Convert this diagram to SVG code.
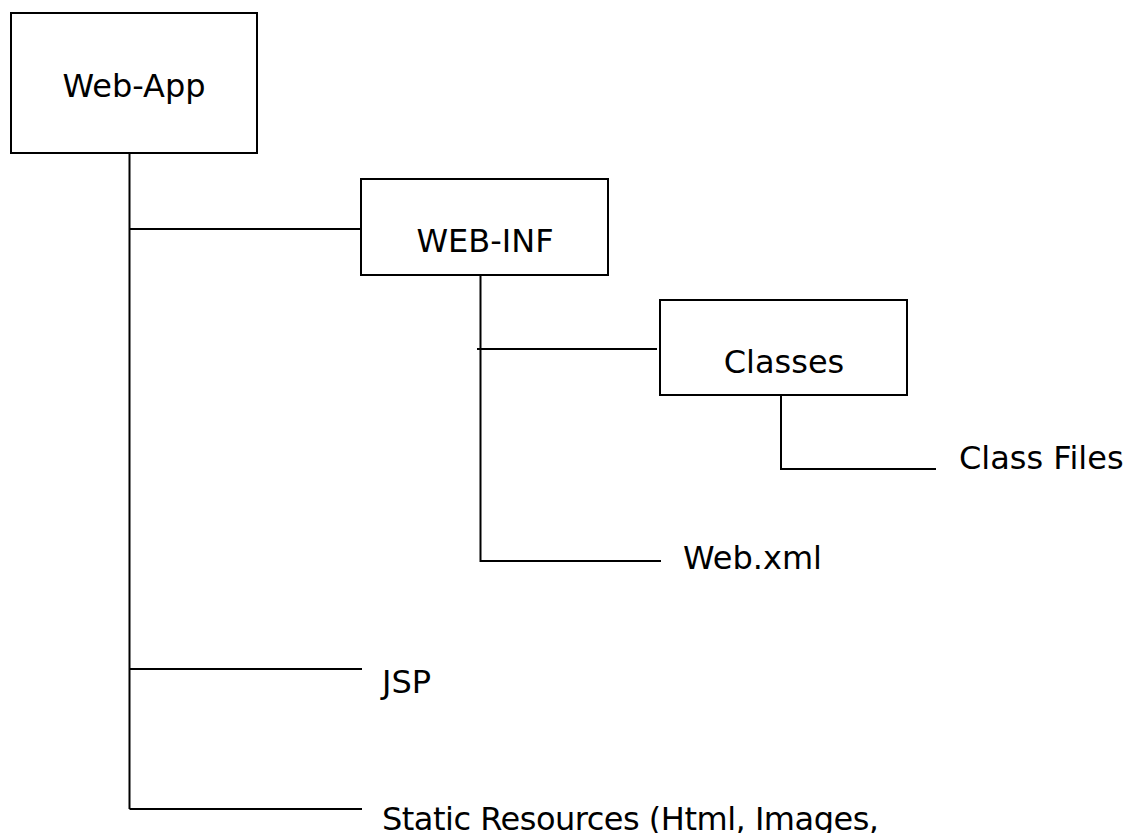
<svg xmlns="http://www.w3.org/2000/svg" width="1128" height="833" viewBox="0 0 1128 833">
<style>
.box{fill:#fff;stroke:#000;stroke-width:2}
.ln{fill:none;stroke:#000;stroke-width:2}
.t{font-family:"DejaVu Sans",Verdana,sans-serif;font-size:32px;fill:#000}
.c{text-anchor:middle}
</style>
<rect width="1128" height="833" fill="#fff"/>
<g id="connectors">
<path class="ln" d="M129.5 153 V809 M129.5 229 H362"/>
<path class="ln" d="M129.5 669 H362 M129.5 809 H362"/>
<path class="ln" d="M480.5 275 V561 H661 M477 349 H657"/>
<path class="ln" d="M781 395 V469 H936"/>
</g>
<g id="web-app">
<rect class="box" x="11" y="13" width="246" height="140"/>
<text class="t c" x="134" y="97">Web-App</text>
</g>
<g id="web-inf">
<rect class="box" x="361" y="179" width="247" height="96"/>
<text class="t c" x="485" y="252">WEB-INF</text>
</g>
<g id="classes">
<rect class="box" x="660" y="300" width="247" height="95"/>
<text class="t c" x="784" y="373">Classes</text>
</g>
<g id="class-files"><text class="t" x="959" y="469">Class Files</text></g>
<g id="web-xml"><text class="t" x="683" y="569">Web.xml</text></g>
<g id="jsp"><text class="t" x="382" y="693">JSP</text></g>
<g id="static"><text class="t" x="382" y="830" textLength="497" lengthAdjust="spacing">Static Resources (Html, Images,</text></g>
</svg>
